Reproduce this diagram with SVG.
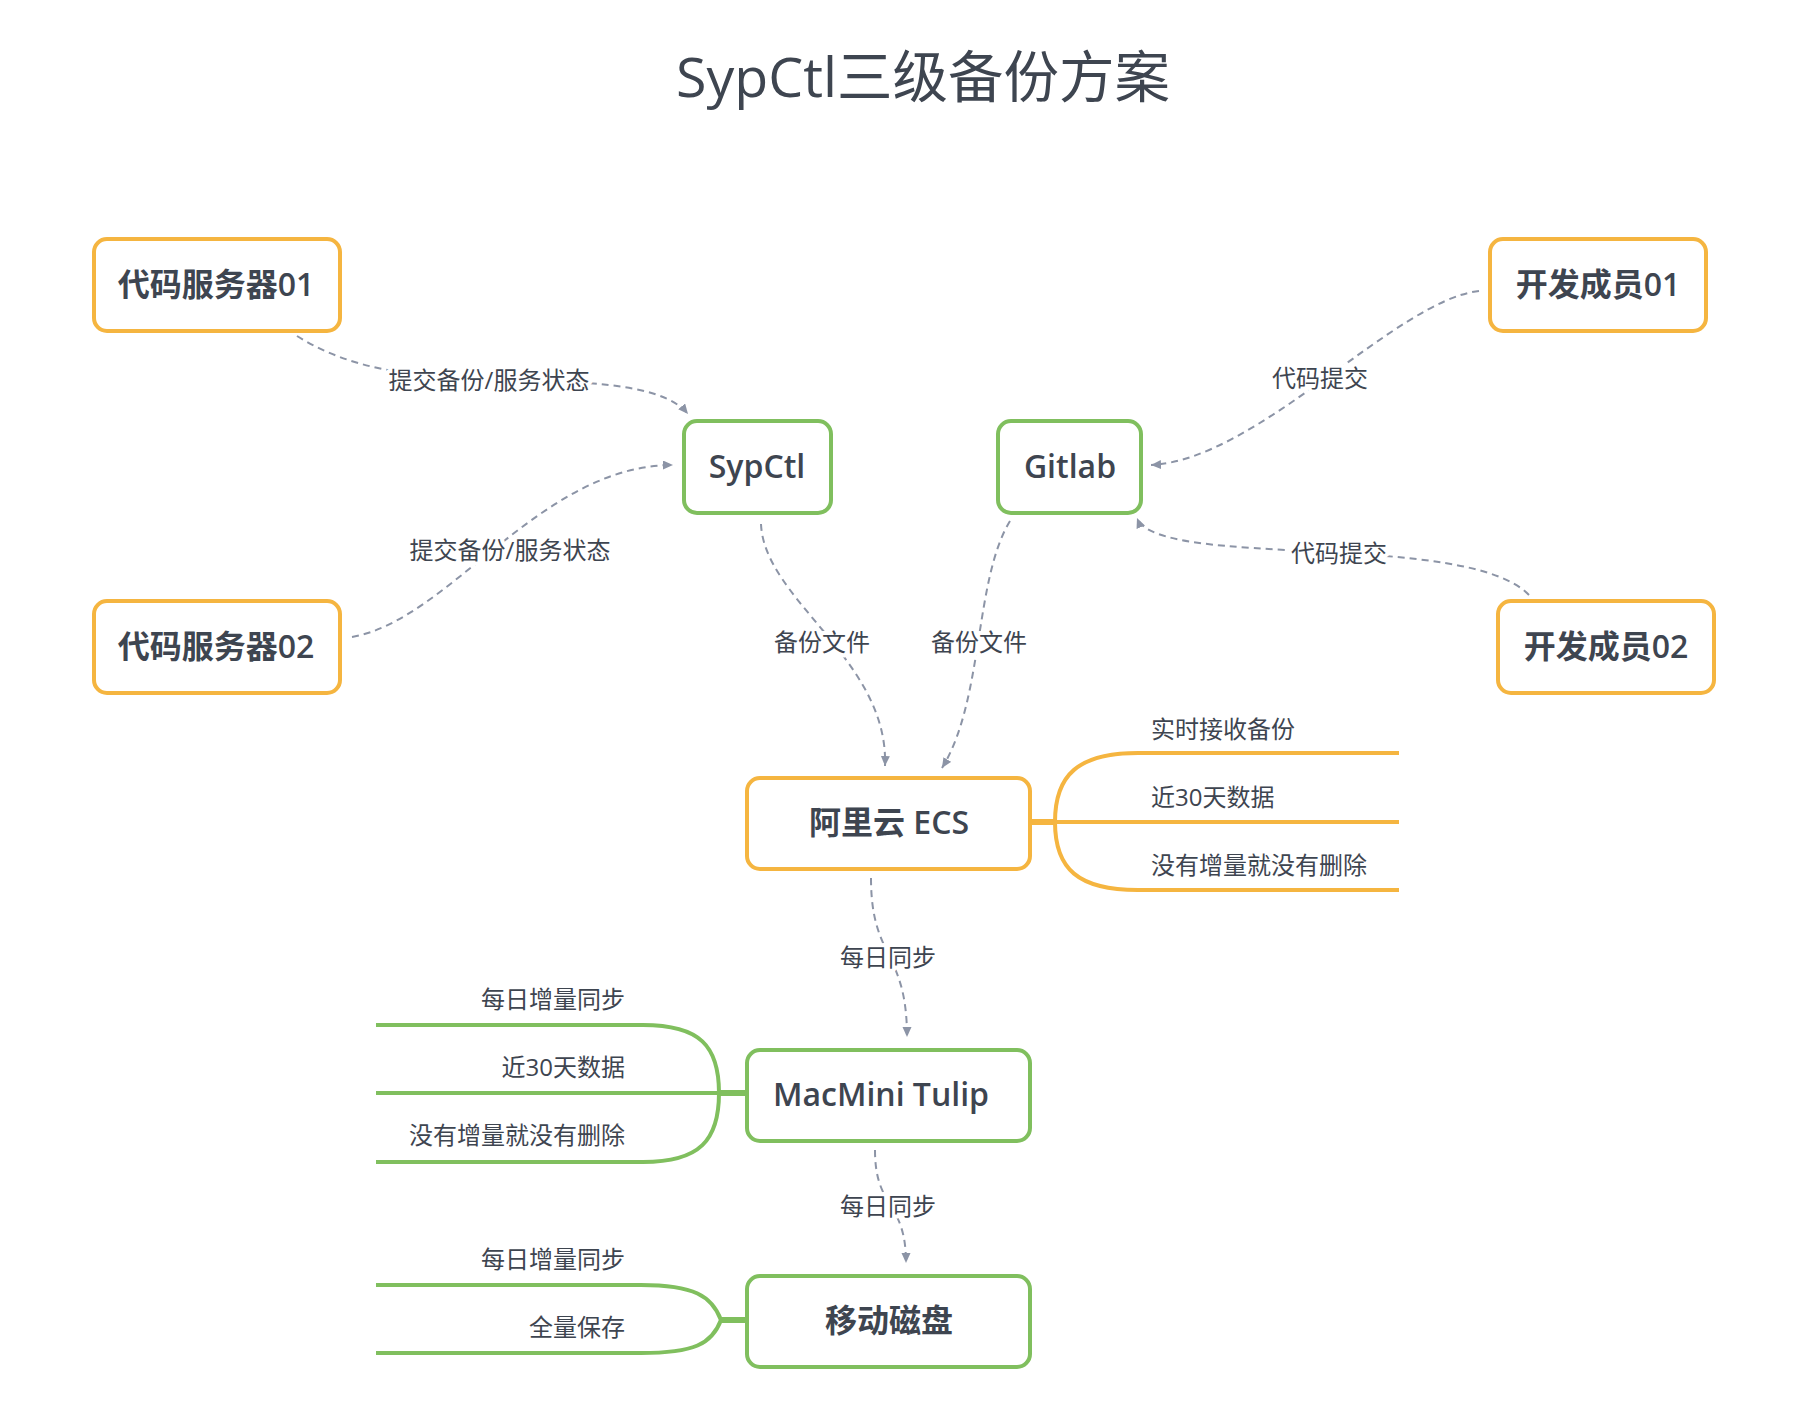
<svg xmlns="http://www.w3.org/2000/svg" width="1814" height="1424" viewBox="0 0 1814 1424">
<style>
.bg{fill:#ffffff}
.title{font-family:"Open Sans","Noto Sans CJK SC",sans-serif;font-size:55.5px;fill:#3E4550;text-anchor:middle}
.node-o{fill:#ffffff;stroke:#F5B540;stroke-width:4}
.node-g{fill:#ffffff;stroke:#80BF5E;stroke-width:4}
.nt{font-family:"Open Sans","Noto Sans CJK SC",sans-serif;font-size:32px;font-weight:600;fill:#3E4550;text-anchor:middle}
.edge{fill:none;stroke:#8C94A6;stroke-width:2;stroke-dasharray:7 5}
.el{font-family:"Open Sans","Noto Sans CJK SC",sans-serif;font-size:24px;fill:#3E4550;text-anchor:middle;stroke:#ffffff;stroke-width:8;paint-order:stroke;stroke-linejoin:round}
.bo{fill:none;stroke:#F5B540;stroke-width:4}
.bg2{fill:none;stroke:#80BF5E;stroke-width:4}
.bl{font-family:"Open Sans","Noto Sans CJK SC",sans-serif;font-size:24px;fill:#3E4550}
.bl-end{text-anchor:end}
</style>
<defs>
<marker id="arr" markerUnits="userSpaceOnUse" markerWidth="12" markerHeight="10" refX="10" refY="4.5" orient="auto">
<path d="M0,0 L10,4.5 L0,9 Z" fill="#8C94A6"/>
</marker>
</defs>
<rect class="bg" x="0" y="0" width="1814" height="1424"/>
<text class="title" x="923" y="97">SypCtl三级备份方案</text>

<g id="connectors">
<path class="edge" d="M297,336 C350,370 420,378 489,380 C570,382 660,380 688,414" marker-end="url(#arr)"/>
<path class="edge" d="M352,637 C450,620 540,465 673,465" marker-end="url(#arr)"/>
<path class="edge" d="M761,524 C764,600 889,660 885,766" marker-end="url(#arr)"/>
<path class="edge" d="M1010,521 C974,580 984,700 942,768" marker-end="url(#arr)"/>
<path class="edge" d="M1479,291 C1396,300 1258,460 1151,465" marker-end="url(#arr)"/>
<path class="edge" d="M1529,595 C1466,530 1158,570 1137,518" marker-end="url(#arr)"/>
<path class="edge" d="M871,878 C871,960 907,950 907,1037" marker-end="url(#arr)"/>
<path class="edge" d="M875,1150 C875,1210 906,1200 906,1263" marker-end="url(#arr)"/>
<text class="el" x="489" y="389">提交备份/服务状态</text>
<text class="el" x="510" y="559">提交备份/服务状态</text>
<text class="el" x="822" y="651">备份文件</text>
<text class="el" x="979" y="651">备份文件</text>
<text class="el" x="1320" y="387">代码提交</text>
<text class="el" x="1339" y="562">代码提交</text>
<text class="el" x="888" y="966">每日同步</text>
<text class="el" x="888" y="1215">每日同步</text>
</g>

<g id="branches-ecs">
<path class="bo" d="M1030,822 L1399,822"/>
<path class="bo" d="M1030,822 L1055,822" style="stroke-width:6"/>
<path class="bo" d="M1055,822 C1055,775 1078,753 1138,753 L1399,753"/>
<path class="bo" d="M1055,822 C1055,869 1078,890 1138,890 L1399,890"/>
<text class="bl" x="1151" y="738">实时接收备份</text>
<text class="bl" x="1151" y="806">近30天数据</text>
<text class="bl" x="1151" y="874">没有增量就没有删除</text>
</g>

<g id="branches-macmini">
<path class="bg2" d="M747,1093 L376,1093"/>
<path class="bg2" d="M747,1093 L719,1093" style="stroke-width:6"/>
<path class="bg2" d="M719,1093 C719,1046 700,1025 643,1025 L376,1025"/>
<path class="bg2" d="M719,1093 C719,1140 700,1162 643,1162 L376,1162"/>
<text class="bl bl-end" x="625" y="1008">每日增量同步</text>
<text class="bl bl-end" x="625" y="1076">近30天数据</text>
<text class="bl bl-end" x="625" y="1144">没有增量就没有删除</text>
</g>

<g id="branches-disk">
<path class="bg2" d="M747,1320 L721,1320" style="stroke-width:6"/>
<path class="bg2" d="M721,1320 C712,1296 694,1285 641,1285 L376,1285"/>
<path class="bg2" d="M721,1320 C712,1344 694,1353 641,1353 L376,1353"/>
<text class="bl bl-end" x="625" y="1268">每日增量同步</text>
<text class="bl bl-end" x="625" y="1336">全量保存</text>
</g>

<g id="node-server01">
<rect class="node-o" x="94" y="239" width="246" height="92" rx="13"/>
<text class="nt" x="216" y="296">代码服务器01</text>
</g>
<g id="node-server02">
<rect class="node-o" x="94" y="601" width="246" height="92" rx="13"/>
<text class="nt" x="216" y="658">代码服务器02</text>
</g>
<g id="node-sypctl">
<rect class="node-g" x="684" y="421" width="147" height="92" rx="13"/>
<text class="nt" x="757" y="478">SypCtl</text>
</g>
<g id="node-gitlab">
<rect class="node-g" x="998" y="421" width="143" height="92" rx="13"/>
<text class="nt" x="1070" y="478">Gitlab</text>
</g>
<g id="node-dev01">
<rect class="node-o" x="1490" y="239" width="216" height="92" rx="13"/>
<text class="nt" x="1598" y="296">开发成员01</text>
</g>
<g id="node-dev02">
<rect class="node-o" x="1498" y="601" width="216" height="92" rx="13"/>
<text class="nt" x="1606" y="658">开发成员02</text>
</g>
<g id="node-ecs">
<rect class="node-o" x="747" y="778" width="283" height="91" rx="13"/>
<text class="nt" x="889" y="834">阿里云 ECS</text>
</g>
<g id="node-macmini">
<rect class="node-g" x="747" y="1050" width="283" height="91" rx="13"/>
<text class="nt" x="881" y="1106">MacMini Tulip</text>
</g>
<g id="node-disk">
<rect class="node-g" x="747" y="1276" width="283" height="91" rx="13"/>
<text class="nt" x="889" y="1332">移动磁盘</text>
</g>
</svg>
